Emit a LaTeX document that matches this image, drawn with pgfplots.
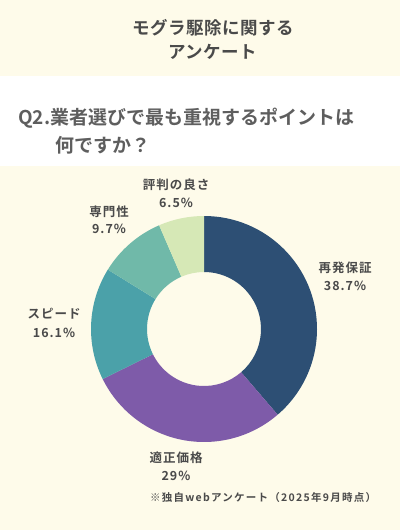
\documentclass[border=0pt]{standalone}
\usepackage{pgfplots}
\pgfplotsset{compat=1.18}
\usepackage{pgfplotstable}
\usepackage{fontspec}
\setmainfont{Noto Sans CJK JP}[BoldFont=* Bold]

\definecolor{bgcream}{HTML}{FEFBEA}
\definecolor{txtgray}{HTML}{4A4A4A}
\definecolor{qgray}{HTML}{5E5E5E}
\definecolor{slicenavy}{HTML}{2D4F74}
\definecolor{slicepurple}{HTML}{7E5BA9}
\definecolor{sliceteal}{HTML}{4BA1A9}
\definecolor{slicesea}{HTML}{70B9A9}
\definecolor{slicelight}{HTML}{D6E8B6}

% share of answers, clockwise from the top
\pgfplotstableread{
share colour
38.7  slicenavy
29.0  slicepurple
16.1  sliceteal
9.7   slicesea
6.5   slicelight
}\shares

\newcommand\lbl[1]{\addfontfeatures{LetterSpace=8}\bfseries #1}

\begin{document}
\begin{tikzpicture}
\begin{axis}[
    scale only axis,
    width=400pt, height=530pt,
    xmin=0, xmax=400, ymin=0, ymax=530,
    y dir=reverse,
    enlargelimits=false,
    hide axis,
    clip=false,
]
% background bands
\fill[bgcream] (axis cs:0,0) rectangle (axis cs:400,530);
\fill[white] (axis cs:0,76) rectangle (axis cs:400,166);

% donut
\def\cx{204}\def\cy{329}\def\R{113}\def\r{57}
\def\cum{0}
\pgfplotstablegetrowsof{\shares}
\pgfmathtruncatemacro\lastrow{\pgfplotsretval-1}
\pgfplotsforeachungrouped \i in {0,...,\lastrow}{%
  \pgfplotstablegetelem{\i}{share}\of\shares \let\share\pgfplotsretval
  \pgfplotstablegetelem{\i}{colour}\of\shares \let\col\pgfplotsretval
  \pgfmathsetmacro\aa{90-3.6*\cum}%
  \pgfmathsetmacro\bb{90-3.6*(\cum+\share)}%
  \pgfmathsetmacro\xa{\cx+\R*cos(\aa)}%
  \pgfmathsetmacro\ya{\cy-\R*sin(\aa)}%
  \pgfmathsetmacro\xb{\cx+\r*cos(\bb)}%
  \pgfmathsetmacro\yb{\cy-\r*sin(\bb)}%
  \edef\slice{\noexpand\fill[\col] (axis cs:\xa,\ya)
    arc[start angle=\aa, end angle=\bb, radius=\R pt]
    -- (axis cs:\xb,\yb)
    arc[start angle=\bb, end angle=\aa, radius=\r pt] -- cycle;}%
  \slice
  \pgfmathsetmacro\cum{\cum+\share}%
}

% titles
\node[txtgray, font=\fontsize{17.5}{20}\selectfont\bfseries\addfontfeatures{LetterSpace=3}]
  at (axis cs:213,28) {モグラ駆除に関する};
\node[txtgray, font=\fontsize{17.5}{20}\selectfont\bfseries\addfontfeatures{LetterSpace=3}]
  at (axis cs:213,52) {アンケート};
\node[qgray, anchor=west, inner sep=0pt, font=\fontsize{19}{22}\selectfont\bfseries]
  at (axis cs:18,118) {Q2.業者選びで最も重視するポイントは};
\node[qgray, anchor=west, inner sep=0pt, font=\fontsize{19}{22}\selectfont\bfseries]
  at (axis cs:55,145) {何ですか？};

% slice labels
\tikzset{lab/.style={txtgray, inner sep=0pt, font=\fontsize{12.5}{14}\selectfont\lbl{}}}
\node[lab] at (axis cs:345,268) {再発保証};
\node[lab] at (axis cs:345,286) {38.7\%};
\node[lab] at (axis cs:176,458) {適正価格};
\node[lab] at (axis cs:176,476) {29\%};
\node[lab] at (axis cs:54,314) {スピード};
\node[lab] at (axis cs:54,333) {16.1\%};
\node[lab] at (axis cs:109,212) {専門性};
\node[lab] at (axis cs:109,229) {9.7\%};
\node[lab] at (axis cs:176,185) {評判の良さ};
\node[lab] at (axis cs:176,203) {6.5\%};

% note
\node[txtgray, anchor=west, inner sep=0pt,
  font=\fontsize{10.5}{12}\selectfont\bfseries\addfontfeatures{LetterSpace=12}]
  at (axis cs:150,498) {※独自webアンケート（2025年9月時点）};
\end{axis}
\end{tikzpicture}
\end{document}
